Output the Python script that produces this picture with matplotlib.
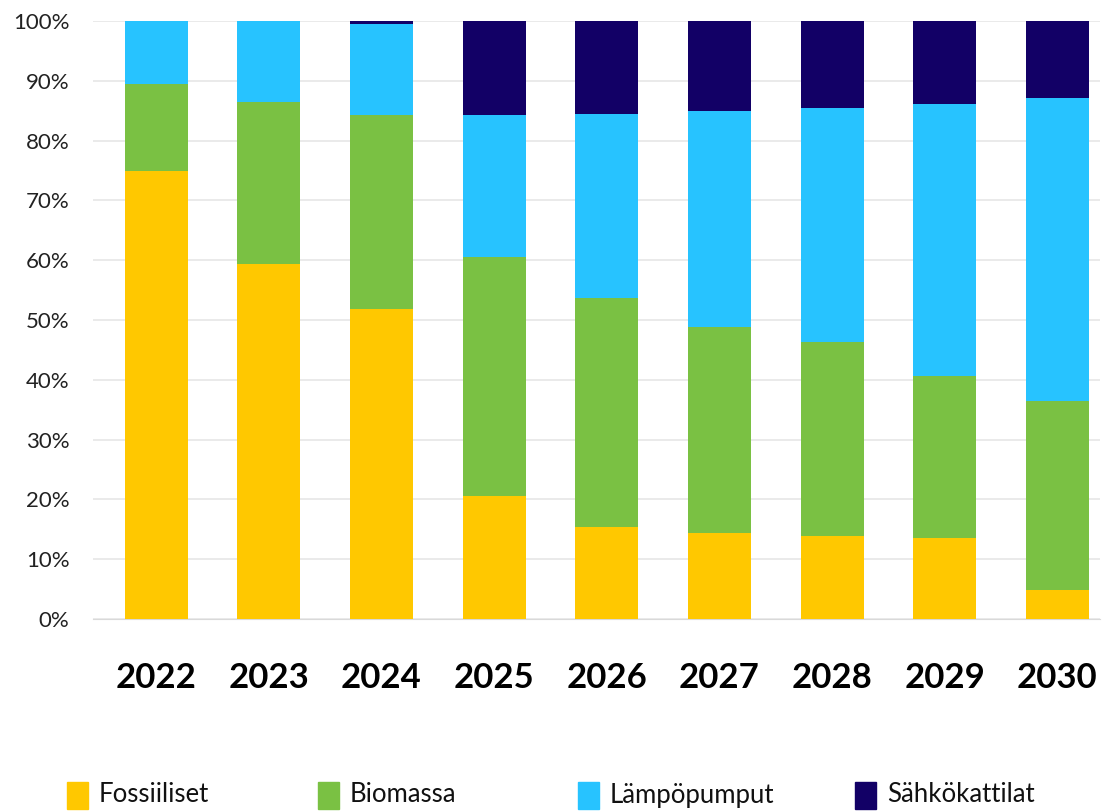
import matplotlib.pyplot as plt
from matplotlib.patches import Rectangle
import numpy as np

plt.rcParams['font.family'] = ['Lato', 'DejaVu Sans']

years = ['2022', '2023', '2024', '2025', '2026', '2027', '2028', '2029', '2030']
fossiliset = [75.0, 59.4, 51.8, 20.6, 15.3, 14.4, 13.9, 13.6, 4.9]
biomassa = [14.4, 27.0, 32.5, 40.0, 38.3, 34.4, 32.4, 27.0, 31.6]
lampopumput = [10.6, 13.6, 15.2, 23.7, 30.9, 36.2, 39.2, 45.5, 50.7]
sahkokattilat = [0.0, 0.0, 0.5, 15.7, 15.5, 15.0, 14.5, 13.9, 12.8]

series = [
    ('Fossiiliset', fossiliset, '#FFC800'),
    ('Biomassa', biomassa, '#7AC143'),
    ('Lämpöpumput', lampopumput, '#27C3FF'),
    ('Sähkökattilat', sahkokattilat, '#120066'),
]

W, H = 1102, 811
fig = plt.figure(figsize=(W / 100, H / 100), dpi=100)
ax = fig.add_axes([0.0844, 0.2368, 0.914, 0.7372])

x = np.arange(len(years))
bottom = np.zeros(len(years))
for name, vals, col in series:
    ax.bar(x, vals, width=0.56, bottom=bottom, color=col, label=name, zorder=3)
    bottom += np.array(vals)

ax.set_ylim(0, 100)
ax.set_xlim(-0.56, 8.38)
ax.set_yticks(np.arange(0, 101, 10))
ax.set_yticklabels([f'{v}%' for v in range(0, 101, 10)], fontsize=16, color='#222222')
ax.set_xticks(x)
ax.set_xticklabels(years, fontsize=25, fontweight='bold', color='black')
ax.tick_params(axis='both', length=0)
ax.tick_params(axis='x', pad=31)
ax.tick_params(axis='y', pad=17)
ax.grid(axis='y', color='#E6E6E6', linewidth=1.2, zorder=0)
for s in ['top', 'right', 'left']:
    ax.spines[s].set_visible(False)
ax.spines['bottom'].set_color('#D9D9D9')

# legend laid out by hand (pixel positions)
sq_left = [67, 318, 578, 855]
for (name, vals, col), px in zip(series, sq_left):
    fig.patches.append(Rectangle((px / W, 1 - 809 / H), 21 / W, 27 / H,
                                 transform=fig.transFigure, color=col, figure=fig))
    fig.text((px + 32) / W, 1 - 795 / H, name, fontsize=18.5, va='center', ha='left',
             color='#111111')

fig.savefig('out.png', dpi=100)
